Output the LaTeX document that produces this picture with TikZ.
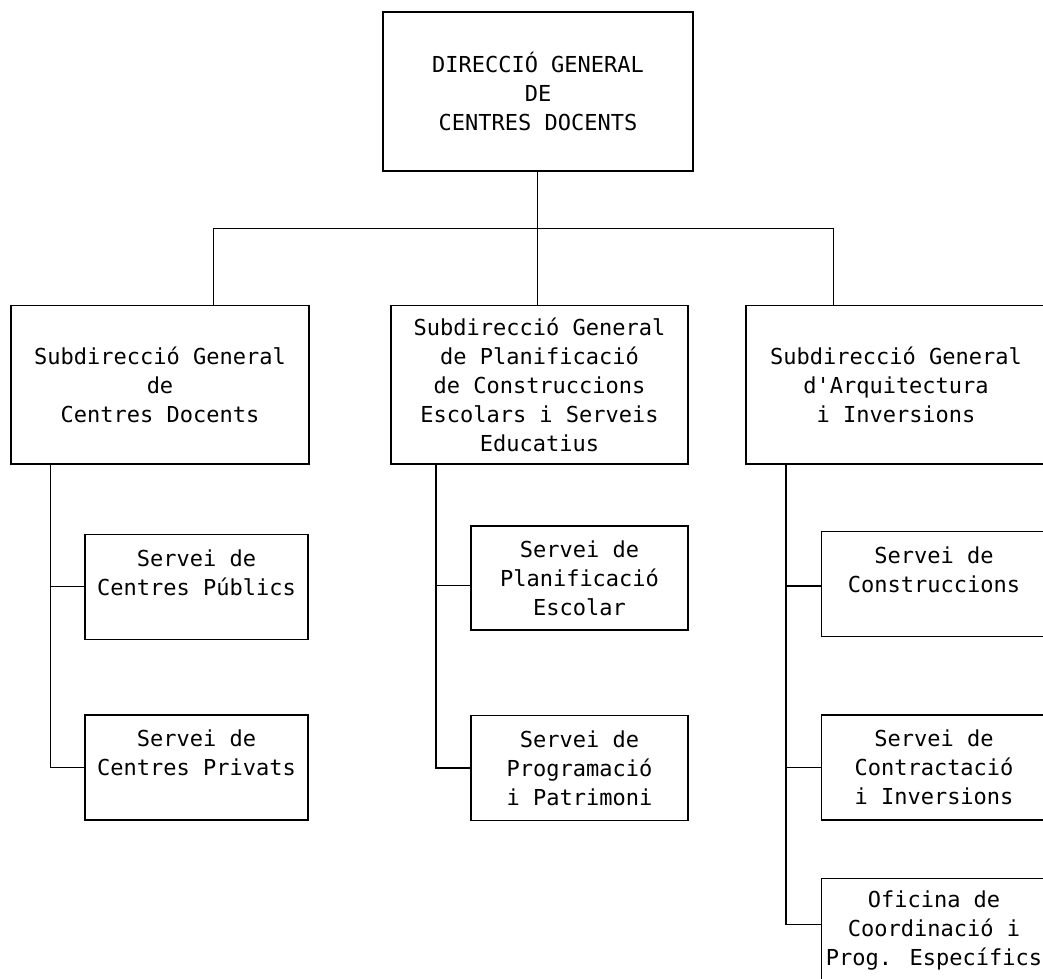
\documentclass[tikz,border=0pt]{standalone}
\usepackage{fontspec}
\newfontfamily\orgmono{DejaVu Sans Mono}
\begin{document}
\begin{tikzpicture}[x=1pt,y=-1pt,
  orgbox/.style={draw=black, line width=1.2pt, rectangle, inner sep=0pt, align=center,
    font=\orgmono\fontsize{22}{29}\selectfont},
  conn/.style={draw=black, line width=1.2pt}]
\useasboundingbox (0,0) rectangle (1043,978);
\clip (0,0) rectangle (1043,978);
\fill[white] (0,0) rectangle (1043,978);

% top
\node[orgbox, minimum width=310pt, minimum height=159pt] (top) at (538,91.5)
  {DIRECCIÓ GENERAL\\DE\\CENTRES DOCENTS};

% subdirections
\node[orgbox, minimum width=298pt, minimum height=158.5pt] (ls) at (160,384.75)
  {Subdirecció General\\de\\Centres Docents};
\node[orgbox, minimum width=297pt, minimum height=158.5pt] (ms) at (539.5,384.75)
  {Subdirecció General\\de Planificació\\de Construccions\\Escolars i Serveis\\Educatius};
\node[orgbox, minimum width=300pt, minimum height=158.5pt] (rs) at (896,384.75)
  {Subdirecció General\\d'Arquitectura\\i Inversions};

% left column
\node[orgbox, minimum width=223pt, minimum height=105pt] (l1) at (196.5,586.8)
  {Servei de\\Centres Públics\\~};
\node[orgbox, minimum width=223pt, minimum height=105pt] (l2) at (196.5,767.5)
  {Servei de\\Centres Privats\\~};

% middle column
\node[orgbox, minimum width=217pt, minimum height=104pt] (m1) at (579.5,578)
  {Servei de\\Planificació\\Escolar};
\node[orgbox, minimum width=217pt, minimum height=104.5pt] (m2) at (579.5,768)
  {Servei de\\Programació\\i Patrimoni};

% right column
\node[orgbox, minimum width=224.5pt, minimum height=105pt] (r1) at (934,584.2)
  {Servei de\\Construccions\\~};
\node[orgbox, minimum width=224.5pt, minimum height=105pt] (r2) at (934,767.5)
  {Servei de\\Contractació\\i Inversions};
\node[orgbox, minimum width=224.5pt, minimum height=105pt] (r3) at (934,930.8)
  {Oficina de\\Coordinació i\\Prog. Específics};

% connectors top level
\coordinate (hl) at (213.7,228.5);
\coordinate (hr) at (833.3,228.5);
\coordinate (hc) at (537.7,228.5);
\draw[conn] (hc |- top.south) -- (hc |- ms.north);
\draw[conn] (hl |- ls.north) -- (hl) -- (hr) -- (hr |- rs.north);

% left bus
\coordinate (lbus) at (50.7,0);
\draw[conn] (lbus |- ls.south) -- (lbus |- l2.west) -- (l2.west);
\draw[conn] (lbus |- l1.west) -- (l1.west);

% middle bus
\coordinate (mbus) at (436,0);
\coordinate (m1in) at ([yshift=-7.7pt]m1.west);
\draw[conn] (mbus |- ms.south) -- (mbus |- m2.west) -- (m2.west);
\draw[conn] (mbus |- m1in) -- (m1in);

% right bus
\coordinate (rbus) at (786,0);
\coordinate (r1in) at ([yshift=-1.8pt]r1.west);
\coordinate (r3in) at ([yshift=6.5pt]r3.west);
\draw[conn] (rbus |- rs.south) -- (rbus |- r3in) -- (r3in);
\draw[conn] (rbus |- r1in) -- (r1in);
\draw[conn] (rbus |- r2.west) -- (r2.west);
\end{tikzpicture}
\end{document}
